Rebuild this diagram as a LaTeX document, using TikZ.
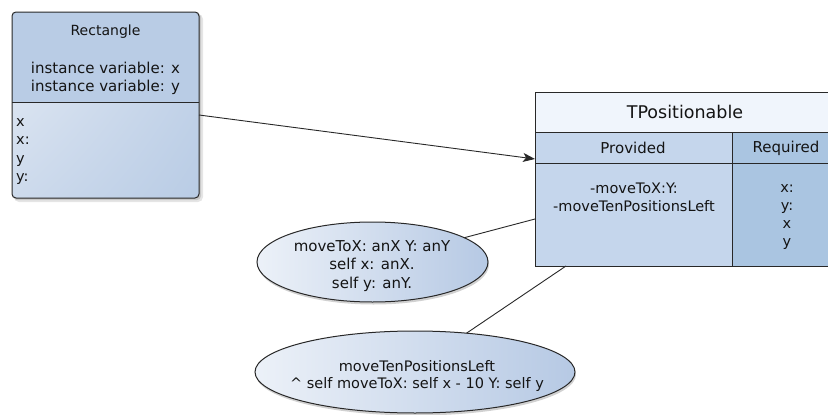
\documentclass[tikz,border=0pt]{standalone}
\usepackage{fontspec}
\setmainfont{DejaVu Sans}
\usetikzlibrary{shapes.geometric,arrows.meta,calc,shadings}

\definecolor{edge}{RGB}{40,40,40}
\definecolor{hdrblue}{RGB}{185,204,229}
\definecolor{paleblue}{RGB}{230,236,245}
\definecolor{titlefill}{RGB}{240,245,252}
\definecolor{provfill}{RGB}{197,214,236}
\definecolor{reqfill}{RGB}{170,197,225}
\definecolor{ellleft}{RGB}{236,241,248}
\definecolor{ellright}{RGB}{182,201,228}

\tikzset{
  txt/.style={inner sep=0pt, text=black!92, font=\fontsize{14}{17}\selectfont},
  colhead/.style={txt, font=\fontsize{15}{18}\selectfont},
  anchorbox/.style={inner sep=0pt, outer sep=0pt, draw=none},
  noteshape/.style={ellipse, inner sep=0pt, outer sep=0pt, draw=none},
  link/.style={draw=edge, line width=0.9pt},
  boxline/.style={draw=edge, line width=1pt},
}

\begin{document}
\begin{tikzpicture}[x=1pt,y=-1pt]
\useasboundingbox (0,0) rectangle (828,415);
\fill[white] (0,0) rectangle (828,415);

% ---- class box "Rectangle" ----
\fill[black, opacity=0.10, rounded corners=5pt] (14,14) rectangle (203,202);
\fill[black, opacity=0.12, rounded corners=4pt] (13,13) rectangle (201,200);
\shade[rounded corners=4pt, upper left=paleblue, lower right=hdrblue,
       upper right=hdrblue!70!paleblue, lower left=hdrblue!55!paleblue]
  (12,12) rectangle (199,198);
\fill[hdrblue, rounded corners=4pt] (12,102) -- (12,12) -- (199,12) [sharp corners] -- (199,102) -- cycle;
\draw[boxline] (12,102) -- (199,102);
\draw[boxline, rounded corners=4pt] (12,12) rectangle (199,198);
\node[anchorbox, minimum width=187pt, minimum height=186pt] (rect) at (105.5,105) {};
\node[txt] (rectname) at (105.5,31.5) {Rectangle};
\node[txt, align=center, font=\fontsize{15}{18}\selectfont] (rectvars) at (105.5,78.5) {instance variable: x\\instance variable: y};
\node[txt, align=left, anchor=west, font=\fontsize{14.5}{18.5}\selectfont] (rectsel) at (16,151.5) {x\\x:\\y\\y:};

% ---- trait box "TPositionable" ----
\fill[titlefill] (535,92) rectangle (840,132);
\fill[provfill] (535,132) rectangle (732,266);
\fill[reqfill] (732,132) rectangle (840,266);
\draw[boxline] (840,92) -- (535,92) -- (535,266) -- (840,266);
\draw[boxline] (535,132) -- (840,132);
\draw[boxline] (535,163) -- (840,163);
\draw[boxline] (732,132) -- (732,266);
\node[anchorbox, minimum width=300pt, minimum height=174pt] (tpos) at (685,179) {};
\node[txt, font=\fontsize{17.5}{20}\selectfont] (tposname) at (685,112) {TPositionable};
\node[colhead] (provhead) at (633,148) {Provided};
\node[colhead] (reqhead) at (786,148) {Required};
\node[txt, align=center, font=\fontsize{14.5}{18}\selectfont] (provlist) at (634,197) {-moveToX:Y:\\-moveTenPositionsLeft};
\node[txt, align=center, font=\fontsize{14.5}{18}\selectfont] (reqlist) at (787,217) {x:\\y:\\x\\y};

% ---- method notes ----
\fill[black, opacity=0.18] (373.5,264.5) ellipse [x radius=115.5pt, y radius=40pt];
\shade[left color=ellleft, right color=ellright] (372.5,262) ellipse [x radius=115.5pt, y radius=40pt];
\draw[boxline] (372.5,262) ellipse [x radius=115.5pt, y radius=40pt];
\node[noteshape, minimum width=231pt, minimum height=80pt] (note1) at (372.5,262) {};
\node[txt, align=center, font=\fontsize{15}{18.5}\selectfont] (note1txt) at (372,266) {moveToX: anX Y: anY\\self x: anX.\\self y: anY.};

\fill[black, opacity=0.18] (416,374.5) ellipse [x radius=160pt, y radius=41pt];
\shade[left color=ellleft, right color=ellright] (415,372) ellipse [x radius=160pt, y radius=41pt];
\draw[boxline] (415,372) ellipse [x radius=160pt, y radius=41pt];
\node[noteshape, minimum width=320pt, minimum height=82pt] (note2) at (415,372) {};
\node[txt, align=center, font=\fontsize{14.5}{17}\selectfont] (note2txt) at (417,376) {moveTenPositionsLeft\\\^{} self moveToX: self x - 10 Y: self y};

% ---- connectors ----
\coordinate (arrowend) at ($(tpos.west)+(0,-20)$);
\coordinate (note1end) at ($(tpos.west)+(0,40)$);
\coordinate (note2end) at ($(tpos.south west)+(31,0)$);
\draw[link, -{Stealth[length=12pt, width=9pt, inset=3pt]}] ($(rect.east)+(0,10)$) -- (arrowend);
\draw[link] (note1) -- (note1end);
\draw[link] (note2.37) -- (note2end);
\end{tikzpicture}
\end{document}
